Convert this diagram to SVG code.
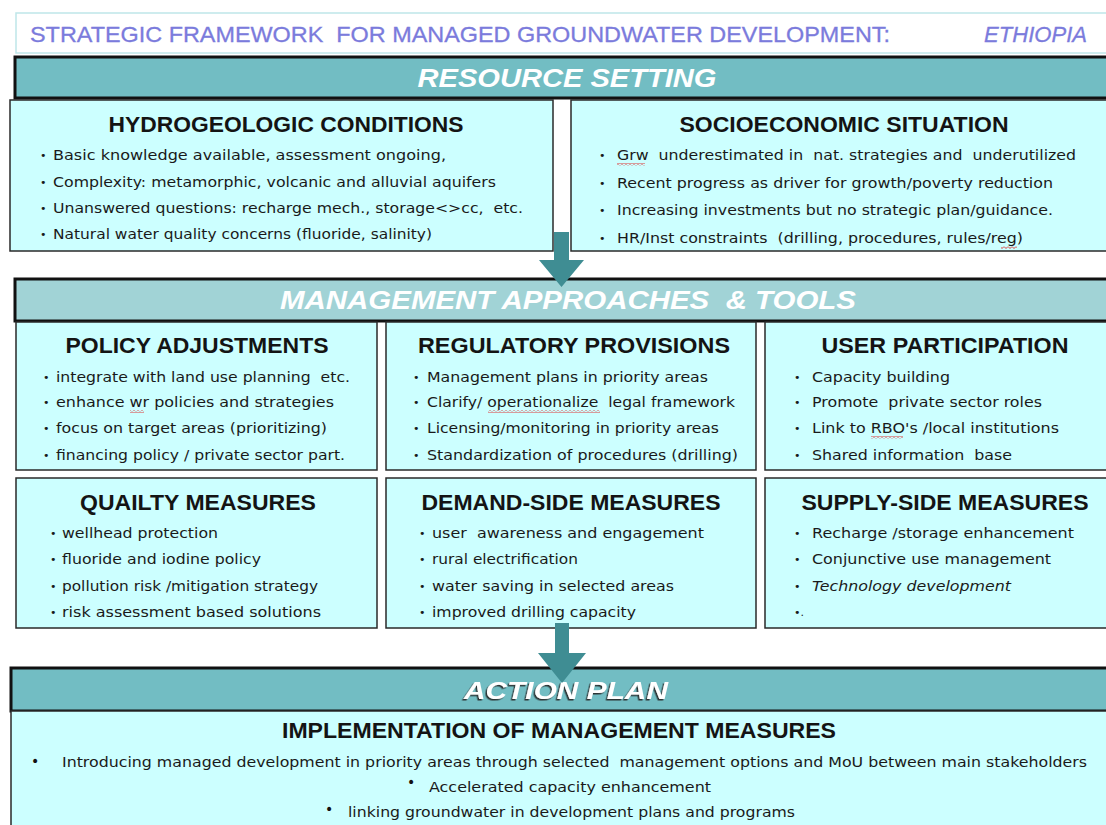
<svg xmlns="http://www.w3.org/2000/svg" width="1106" height="825" viewBox="0 0 1106 825">
<style>
text{white-space:pre}
.box{fill:#ccffff;stroke:#2a2a2a;stroke-width:1.5}
.bar{stroke:#111;stroke-width:3}
.ttl{font-family:"Liberation Sans",Arial,sans-serif;font-weight:bold;font-size:22px;fill:#141414;text-anchor:middle}
.t{font-family:"DejaVu Sans","Liberation Sans",sans-serif;font-size:14px;fill:#1a1a1a}
.d{font-family:"DejaVu Sans",sans-serif;font-size:11px;fill:#1a1a1a}
.d2{font-family:"DejaVu Sans",sans-serif;font-size:14px;fill:#111}
.bt{font-family:"Liberation Sans",Arial,sans-serif;font-weight:bold;font-style:italic;fill:#ffffff;text-anchor:middle}
.hd{font-family:"Liberation Sans",Arial,sans-serif;font-size:22px;fill:#7b7bdc;stroke:#7b7bdc;stroke-width:0.3}
.sq{fill:url(#zz)}
.arr{fill:#3f8d93}
</style>
<defs>
<filter id="sh" x="-5%" y="-20%" width="110%" height="150%">
<feDropShadow dx="-1.5" dy="1.5" stdDeviation="0.4" flood-color="#222" flood-opacity="0.9"/>
</filter>
<pattern id="zz" patternUnits="userSpaceOnUse" x="0" y="0" width="4" height="3">
<path d="M0 0.5 L2 2.5 L4 0.5" fill="none" stroke="#e02020" stroke-width="0.9"/>
</pattern>
</defs>
<rect width="1106" height="825" fill="#ffffff"/>

<g id="header">
<rect x="16" y="13" width="1100" height="40" fill="#ffffff" stroke="#bfe6e9" stroke-width="1.5"/>
<text class="hd" x="30" y="42" textLength="860" lengthAdjust="spacingAndGlyphs">STRATEGIC FRAMEWORK  FOR MANAGED GROUNDWATER DEVELOPMENT:</text>
<text class="hd" x="984" y="42" font-style="italic" textLength="103" lengthAdjust="spacingAndGlyphs">ETHIOPIA</text>
</g>

<g id="resource-setting">
<rect class="bar" x="15" y="57" width="1100" height="41" fill="#72bdc3"/>
<text class="bt" x="567" y="87" font-size="26" textLength="299" lengthAdjust="spacingAndGlyphs">RESOURCE SETTING</text>
</g>

<g id="hydrogeologic">
<rect class="box" x="10" y="100" width="543" height="151"/>
<text class="ttl" x="286" y="132" textLength="355" lengthAdjust="spacingAndGlyphs">HYDROGEOLOGIC CONDITIONS</text>
<text class="d" x="40" y="159">•</text><text class="t" x="53" y="160" textLength="393" lengthAdjust="spacingAndGlyphs">Basic knowledge available, assessment ongoing,</text>
<text class="d" x="40" y="186">•</text><text class="t" x="53" y="187" textLength="443" lengthAdjust="spacingAndGlyphs">Complexity: metamorphic, volcanic and alluvial aquifers</text>
<text class="d" x="40" y="212">•</text><text class="t" x="53" y="213" textLength="470" lengthAdjust="spacingAndGlyphs">Unanswered questions: recharge mech., storage&lt;&gt;cc,  etc.</text>
<text class="d" x="40" y="238">•</text><text class="t" x="53" y="239" textLength="379" lengthAdjust="spacingAndGlyphs">Natural water quality concerns (fluoride, salinity)</text>
</g>

<g id="socioeconomic">
<rect class="box" x="571" y="100" width="545" height="151"/>
<text class="ttl" x="844" y="132" textLength="329" lengthAdjust="spacingAndGlyphs">SOCIOECONOMIC SITUATION</text>
<text class="d" x="599" y="159">•</text><text class="t" x="617" y="160" textLength="459" lengthAdjust="spacingAndGlyphs">Grw  underestimated in  nat. strategies and  underutilized</text>
<text class="d" x="599" y="187">•</text><text class="t" x="617" y="188" textLength="436" lengthAdjust="spacingAndGlyphs">Recent progress as driver for growth/poverty reduction</text>
<text class="d" x="599" y="214">•</text><text class="t" x="617" y="215" textLength="436" lengthAdjust="spacingAndGlyphs">Increasing investments but no strategic plan/guidance.</text>
<text class="d" x="599" y="242">•</text><text class="t" x="617" y="243" textLength="406" lengthAdjust="spacingAndGlyphs">HR/Inst constraints  (drilling, procedures, rules/reg)</text>
<rect class="sq" x="617" y="163" width="28" height="3"/>
<rect class="sq" x="1001" y="246" width="16" height="3"/>
</g>

<g id="management-approaches">
<rect class="bar" x="15" y="279" width="1100" height="42" fill="#a1d3d6" stroke-width="2.5"/>
<text class="bt" x="568" y="309" font-size="25" textLength="576" lengthAdjust="spacingAndGlyphs">MANAGEMENT APPROACHES  &amp; TOOLS</text>
</g>

<g id="policy-adjustments">
<rect class="box" x="16" y="322" width="361" height="148"/>
<text class="ttl" x="197" y="353" textLength="263" lengthAdjust="spacingAndGlyphs">POLICY ADJUSTMENTS</text>
<text class="d" x="43" y="381">•</text><text class="t" x="56" y="382" textLength="294" lengthAdjust="spacingAndGlyphs">integrate with land use planning  etc.</text>
<text class="d" x="43" y="406">•</text><text class="t" x="56" y="407" textLength="278" lengthAdjust="spacingAndGlyphs">enhance wr policies and strategies</text>
<text class="d" x="43" y="432">•</text><text class="t" x="56" y="433" textLength="271" lengthAdjust="spacingAndGlyphs">focus on target areas (prioritizing)</text>
<text class="d" x="43" y="459">•</text><text class="t" x="56" y="460" textLength="289" lengthAdjust="spacingAndGlyphs">financing policy / private sector part.</text>
<rect class="sq" x="130" y="410" width="14" height="3"/>
</g>

<g id="regulatory-provisions">
<rect class="box" x="386" y="322" width="370" height="148"/>
<text class="ttl" x="574" y="353" textLength="312" lengthAdjust="spacingAndGlyphs">REGULATORY PROVISIONS</text>
<text class="d" x="413" y="381">•</text><text class="t" x="427" y="382" textLength="281" lengthAdjust="spacingAndGlyphs">Management plans in priority areas</text>
<text class="d" x="413" y="406">•</text><text class="t" x="427" y="407" textLength="308" lengthAdjust="spacingAndGlyphs">Clarify/ operationalize  legal framework</text>
<text class="d" x="413" y="432">•</text><text class="t" x="427" y="433" textLength="292" lengthAdjust="spacingAndGlyphs">Licensing/monitoring in priority areas</text>
<text class="d" x="413" y="459">•</text><text class="t" x="427" y="460" textLength="311" lengthAdjust="spacingAndGlyphs">Standardization of procedures (drilling)</text>
<rect class="sq" x="488" y="410" width="112" height="3"/>
</g>

<g id="user-participation">
<rect class="box" x="765" y="322" width="351" height="148"/>
<text class="ttl" x="945" y="353" textLength="247" lengthAdjust="spacingAndGlyphs">USER PARTICIPATION</text>
<text class="d" x="794" y="381">•</text><text class="t" x="812" y="382" textLength="138" lengthAdjust="spacingAndGlyphs">Capacity building</text>
<text class="d" x="794" y="406">•</text><text class="t" x="812" y="407" textLength="230" lengthAdjust="spacingAndGlyphs">Promote  private sector roles</text>
<text class="d" x="794" y="432">•</text><text class="t" x="812" y="433" textLength="247" lengthAdjust="spacingAndGlyphs">Link to RBO's /local institutions</text>
<text class="d" x="794" y="459">•</text><text class="t" x="812" y="460" textLength="200" lengthAdjust="spacingAndGlyphs">Shared information  base</text>
<rect class="sq" x="871" y="436" width="32" height="3"/>
</g>

<g id="quality-measures">
<rect class="box" x="16" y="478" width="361" height="150"/>
<text class="ttl" x="198" y="510" textLength="236" lengthAdjust="spacingAndGlyphs">QUAILTY MEASURES</text>
<text class="d" x="50" y="537">•</text><text class="t" x="62" y="538" textLength="156" lengthAdjust="spacingAndGlyphs">wellhead protection</text>
<text class="d" x="50" y="563">•</text><text class="t" x="62" y="564" textLength="199" lengthAdjust="spacingAndGlyphs">fluoride and iodine policy</text>
<text class="d" x="50" y="590">•</text><text class="t" x="62" y="591" textLength="256" lengthAdjust="spacingAndGlyphs">pollution risk /mitigation strategy</text>
<text class="d" x="50" y="616">•</text><text class="t" x="62" y="617" textLength="259" lengthAdjust="spacingAndGlyphs">risk assessment based solutions</text>
</g>

<g id="demand-side-measures">
<rect class="box" x="386" y="478" width="370" height="150"/>
<text class="ttl" x="571" y="510" textLength="299" lengthAdjust="spacingAndGlyphs">DEMAND-SIDE MEASURES</text>
<text class="d" x="419" y="537">•</text><text class="t" x="432" y="538" textLength="272" lengthAdjust="spacingAndGlyphs">user  awareness and engagement</text>
<text class="d" x="419" y="563">•</text><text class="t" x="432" y="564" textLength="146" lengthAdjust="spacingAndGlyphs">rural electrification</text>
<text class="d" x="419" y="590">•</text><text class="t" x="432" y="591" textLength="242" lengthAdjust="spacingAndGlyphs">water saving in selected areas</text>
<text class="d" x="419" y="616">•</text><text class="t" x="432" y="617" textLength="204" lengthAdjust="spacingAndGlyphs">improved drilling capacity</text>
</g>

<g id="supply-side-measures">
<rect class="box" x="765" y="478" width="351" height="150"/>
<text class="ttl" x="945" y="510" textLength="287" lengthAdjust="spacingAndGlyphs">SUPPLY-SIDE MEASURES</text>
<text class="d" x="794" y="537">•</text><text class="t" x="812" y="538" textLength="262" lengthAdjust="spacingAndGlyphs">Recharge /storage enhancement</text>
<text class="d" x="794" y="563">•</text><text class="t" x="812" y="564" textLength="239" lengthAdjust="spacingAndGlyphs">Conjunctive use management</text>
<text class="d" x="794" y="590">•</text><text class="t" x="812" y="591" font-style="italic" textLength="199" lengthAdjust="spacingAndGlyphs">Technology development</text>
<text class="d" x="794" y="616">•.</text>
</g>

<g id="action-plan">
<rect class="bar" x="11" y="668" width="1105" height="43" fill="#72bdc3"/>
<text class="bt" x="566" y="699" font-size="24" filter="url(#sh)" textLength="204" lengthAdjust="spacingAndGlyphs">ACTION PLAN</text>
</g>

<g id="implementation">
<rect class="box" x="11" y="711" width="1105" height="130"/>
<text class="ttl" x="559" y="738" textLength="554" lengthAdjust="spacingAndGlyphs">IMPLEMENTATION OF MANAGEMENT MEASURES</text>
<text class="d2" x="31" y="766">•</text><text class="t" x="62" y="767" textLength="1025" lengthAdjust="spacingAndGlyphs">Introducing managed development in priority areas through selected  management options and MoU between main stakeholders</text>
<text class="d2" x="407" y="787">•</text><text class="t" x="429" y="792" textLength="282" lengthAdjust="spacingAndGlyphs">Accelerated capacity enhancement</text>
<text class="d2" x="325" y="814">•</text><text class="t" x="348" y="817" textLength="447" lengthAdjust="spacingAndGlyphs">linking groundwater in development plans and programs</text>
</g>

<g id="connectors">
<path class="arr" d="M554 232 H569 V260 H584 L561.5 287 L539 260 H554 Z"/>
<path class="arr" d="M555 623 H569 V653 H586 L562 683 L538 653 H555 Z"/>
</g>
</svg>
